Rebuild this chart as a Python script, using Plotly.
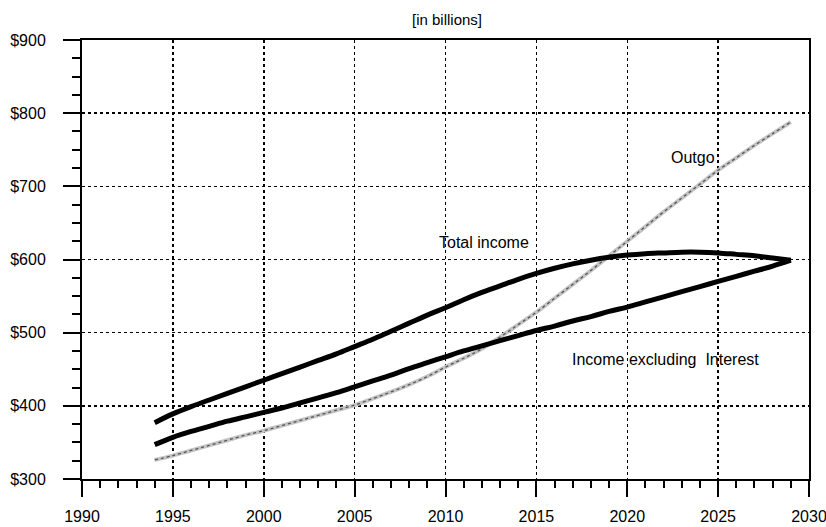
import plotly.graph_objects as go

years = list(range(1994, 2030))

total_income = [377, 389, 399, 408, 417, 426, 435, 444, 453, 462, 471, 481,
                491, 502, 513, 524, 534, 545, 555, 564, 573, 581, 588, 594,
                599, 603, 606, 608, 609, 610, 610, 609, 607, 605, 602, 599]

income_excl_interest = [347, 357, 365, 372, 379, 385, 391, 397, 404, 411, 418, 426,
                        434, 442, 451, 459, 467, 475, 482, 489, 496, 503, 509, 516,
                        522, 529, 535, 542, 549, 556, 563, 570, 577, 584, 591, 599]

outgo = [326, 332, 339, 346, 353, 360, 366, 373, 380, 387, 394, 401,
         410, 419, 429, 440, 453, 465, 478, 494, 511, 528, 547, 566,
         585, 605, 625, 645, 665, 684, 703, 722, 739, 756, 772, 788]

labels = [
    ("Total income", 2012.1, 623),
    ("Outgo", 2023.6, 739),
    ("Income excluding&nbsp;&nbsp;Interest", 2022.1, 464),
]

FONT = "Liberation Sans, Arial, Helvetica, sans-serif"

fig = go.Figure()
# Outgo: light hatched line
fig.add_trace(go.Scatter(x=years, y=outgo, mode="lines",
                         line=dict(color="#c4c4c4", width=4, shape="spline"),
                         showlegend=False, hoverinfo="skip"))
fig.add_trace(go.Scatter(x=years, y=outgo, mode="lines",
                         line=dict(color="#555555", width=1.3, dash="dot", shape="spline"),
                         showlegend=False))
fig.add_trace(go.Scatter(x=years, y=total_income, mode="lines",
                         line=dict(color="black", width=5, shape="spline"),
                         showlegend=False))
fig.add_trace(go.Scatter(x=years, y=income_excl_interest, mode="lines",
                         line=dict(color="black", width=5, shape="spline"),
                         showlegend=False))

for text, x, y in labels:
    fig.add_annotation(x=x, y=y, text=text, showarrow=False,
                       font=dict(family=FONT, size=16, color="black"))

fig.add_annotation(xref="paper", yref="paper", x=0.502, y=1.046,
                   text="[in billions]", showarrow=False, yanchor="middle",
                   font=dict(family=FONT, size=15, color="black"))

fig.update_xaxes(range=[1990, 2030], dtick=5, tick0=1990, automargin=False,
                 ticklabeloverflow="allow",
                 showline=True, linecolor="black", linewidth=2, mirror=True,
                 ticks="outside", ticklen=16, tickwidth=2, tickcolor="black",
                 ticklabelstandoff=6,
                 minor=dict(dtick=1, ticks="outside", ticklen=7, tickwidth=2,
                            tickcolor="black", showgrid=False),
                 showgrid=True, gridcolor="black", gridwidth=1.5, griddash="dot",
                 zeroline=False,
                 tickfont=dict(family=FONT, size=16, color="black"))
fig.update_yaxes(range=[300, 900], dtick=100, tick0=300, tickprefix="$",
                 automargin=False, ticklabeloverflow="allow",
                 showline=True, linecolor="black", linewidth=2, mirror=True,
                 ticks="outside", ticklen=17, tickwidth=2, tickcolor="black",
                 ticklabelstandoff=14,
                 minor=dict(dtick=25, ticks="outside", ticklen=8, tickwidth=2,
                            tickcolor="black", showgrid=False),
                 showgrid=True, gridcolor="black", gridwidth=1.5, griddash="dot",
                 zeroline=False,
                 tickfont=dict(family=FONT, size=16, color="black"))

fig.update_layout(width=826, height=527,
                  margin=dict(l=82, r=17, t=40, b=48),
                  paper_bgcolor="white", plot_bgcolor="white",
                  hovermode=False,
                  font=dict(family=FONT, color="black"))

fig.write_html("out.html",
               config={"displayModeBar": False, "staticPlot": True},
               post_script="document.body.style.margin='0';document.body.style.overflow='hidden';")
